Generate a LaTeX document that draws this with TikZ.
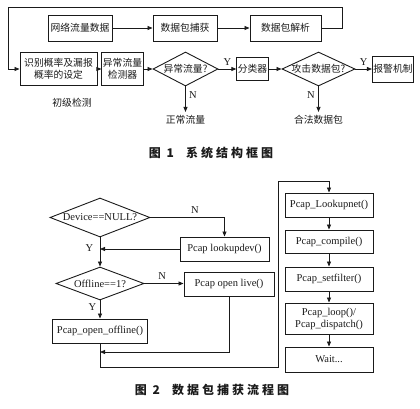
\documentclass[tikz,border=0pt]{standalone}
\usepackage{fontspec}
\setmainfont{Liberation Serif}
\newfontfamily\cjk{Noto Sans CJK SC}
\newfontfamily\cjkcap[LetterSpace=25]{Noto Sans CJK SC}
\usepackage{tikz}
\usetikzlibrary{shapes.geometric,arrows.meta}
\definecolor{ink}{HTML}{1A1A1A}
\tikzset{
  line/.style={draw=ink, line width=0.8pt},
  arr/.style={line, -{Triangle[length=5pt,width=4pt]}},
  box/.style={draw=ink, line width=0.9pt, rectangle, inner sep=1pt, align=center, text=ink},
  cond/.style={draw=ink, line width=0.9pt, diamond, inner sep=0pt, aspect=2.4},
  zh/.style={text=ink, align=center, font=\cjk\fontsize{9.8}{12}\selectfont},
  en/.style={text=ink, align=center, font=\fontsize{10.5}{12}\selectfont},
  lab/.style={text=ink, font=\fontsize{10.5}{12}\selectfont},
  captxt/.style={text=ink, font=\cjkcap\bfseries\fontsize{12}{14}\selectfont},
}
\begin{document}
\begin{tikzpicture}[x=1pt,y=-1pt]
  \useasboundingbox (0,0) rectangle (420,409);
  % figure 1
  \node[box,zh,minimum width=64pt,minimum height=26pt] (net) at (80,28) {网络流量数据};
  \node[box,zh,minimum width=64pt,minimum height=26pt] (grab) at (185,28) {数据包捕获};
  \node[box,zh,minimum width=71pt,minimum height=26pt] (parse) at (285.5,28) {数据包解析};
  \node[box,zh,minimum width=77pt,minimum height=33pt] (ident) at (58.5,69) {识别概率及漏报\\概率的设定};
  \node[box,zh,minimum width=41pt,minimum height=33pt] (det) at (122.5,69) {异常流量\\检测器};
  \node[cond,minimum width=65pt,minimum height=34pt,label={[zh]center:异常流量?}] (abn) at (185.5,69) {};
  \node[box,zh,minimum width=31pt,minimum height=23pt] (cls) at (252.5,69) {分类器};
  \node[cond,minimum width=73pt,minimum height=34pt,label={[zh]center:攻击数据包?}] (atk) at (318.5,69) {};
  \node[box,zh,minimum width=40pt,minimum height=26pt] (alarm) at (393,69) {报警机制};
  \node[zh] (normal) at (185.5,120) {正常流量};
  \node[zh] (legal) at (318.5,120) {合法数据包};
  \node[zh] (lvl) at (72,103) {初级检测};
  \coordinate (r1) at (342,28);
  \coordinate (r2) at (342,7);
  \coordinate (l1) at (8,7);
  \draw[arr] (net) -- (grab);
  \draw[arr] (grab) -- (parse);
  \draw[arr] (parse.east) -- (r1) -- (r2) -- (l1) |- (ident.west);
  \draw[arr] (ident) -- (det);
  \draw[arr] (det) -- (abn);
  \draw[arr] (abn) -- node[lab,above]{Y} (cls);
  \draw[arr] (abn) -- node[lab,right,pos=0.35]{N} (normal);
  \draw[arr] (cls) -- (atk);
  \draw[arr] (atk) -- node[lab,above]{Y} (alarm);
  \draw[arr] (atk) -- node[lab,left,pos=0.35]{N} (legal);
  \node[captxt] (t1) at (211,153) {图 1\hspace{12pt}系统结构框图};
  % figure 2
  \node[cond,minimum width=100pt,minimum height=39pt,label={[en]center:Device==NULL?}] (dev) at (100,217.5) {};
  \node[box,en,minimum width=89pt,minimum height=24pt] (lkdev) at (224.5,249) {Pcap lookupdev()};
  \node[cond,minimum width=88pt,minimum height=33pt,label={[en]center:Offline==1?}] (off) at (100,283.5) {};
  \node[box,en,minimum width=90pt,minimum height=24pt] (live) at (229,284) {Pcap open live()};
  \node[box,en,minimum width=95pt,minimum height=24pt] (offl) at (100,331) {Pcap\_open\_offline()};
  \node[box,en,minimum width=88pt,minimum height=24pt] (lknet) at (329,205) {Pcap\_Lookupnet()};
  \node[box,en,minimum width=88pt,minimum height=23pt] (comp) at (329,241.5) {Pcap\_compile()};
  \node[box,en,minimum width=88pt,minimum height=24pt] (setf) at (329,279) {Pcap\_setfilter()};
  \node[box,en,minimum width=88pt,minimum height=31pt] (loop) at (329,318.5) {Pcap\_loop()/\\Pcap\_dispatch()};
  \node[box,en,minimum width=88pt,minimum height=25pt] (wait) at (329,359.5) {Wait...};
  \coordinate (j1) at (100,352);
  \coordinate (c1) at (278,367);
  \coordinate (c2) at (278,181);
  \draw[arr] (dev.east) -| node[lab,above,pos=0.3]{N} (lkdev.north);
  \draw[arr] (lkdev.west) -- (lkdev.west -| dev.south);
  \draw[arr] (dev.south) -- node[lab,left=3pt,pos=0.35]{Y} (off.north);
  \draw[arr] (off.east) -- node[lab,above,pos=0.45]{N} (off.east -| live.west);
  \draw[arr] (off.south) -- node[lab,left,pos=0.35]{Y} (offl.north);
  \draw[arr] (live.south) |- (j1);
  \draw[arr] (offl.south) |- (c1) -- (c2) -| (lknet.north);
  \draw[arr] (lknet) -- (comp);
  \draw[arr] (comp) -- (setf);
  \draw[arr] (setf) -- (loop);
  \draw[arr] (loop) -- (wait);
  \node[captxt] (t2) at (212,390) {图 2\hspace{12pt}数据包捕获流程图};
\end{tikzpicture}
\end{document}
